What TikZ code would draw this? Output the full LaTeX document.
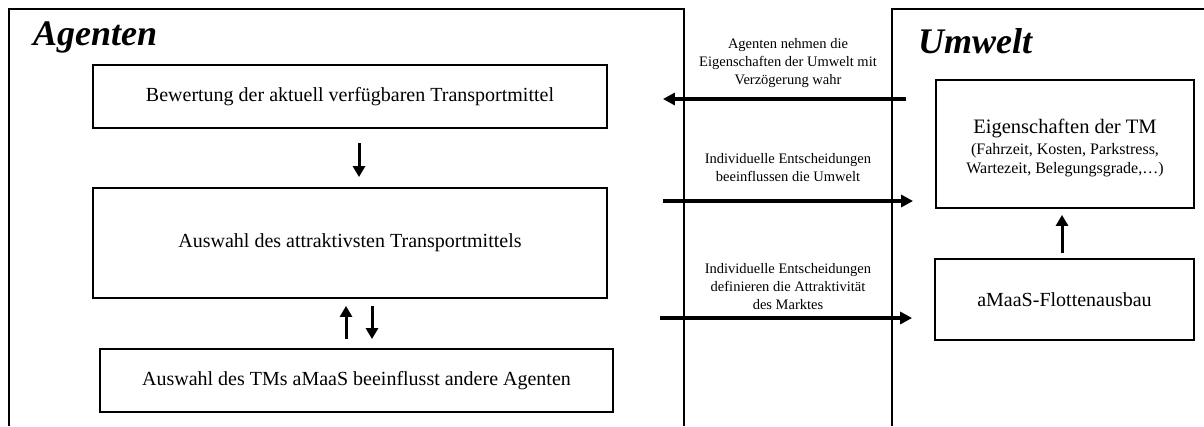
\documentclass[tikz,border=0pt]{standalone}
\usepackage{fontspec}
\setmainfont{Liberation Serif}
\usetikzlibrary{arrows.meta,calc}
\begin{document}
\begin{tikzpicture}[x=1pt,y=-1pt,
  frame/.style={line width=1.4pt},
  box/.style={draw,line width=1.8pt,inner sep=0pt,align=center,font=\fontsize{20}{24}\selectfont},
  harr/.style={line width=3.4pt,-{Triangle[length=12pt,width=12pt]}},
  varr/.style={line width=3pt,-{Triangle[length=11pt,width=12pt]}},
  lbl/.style={align=center,font=\fontsize{14.5}{18}\selectfont,inner sep=0pt},
  title/.style={anchor=base west,inner sep=0pt,font=\fontsize{36}{40}\selectfont\bfseries\itshape}]
\useasboundingbox (0,0) rectangle (1204,426);
% frames
\draw[frame] (9,426) coordinate (agbl) |- (684,9) -- (684,426) coordinate (agbr);
\draw[frame] (892,426) coordinate (umbl) |- (1204,9) coordinate (umtr);
\node[title] (tag) at (33,45) {Agenten};
\node[title] (tum) at (918,53) {Umwelt};
% agent boxes
\node[box,minimum width=514pt,minimum height=63pt] (b1) at (350,96.5) {Bewertung der aktuell verfügbaren Transportmittel};
\node[box,minimum width=514pt,minimum height=110pt] (b2) at (350,243) {Auswahl des attraktivsten Transportmittels};
\node[box,minimum width=513pt,minimum height=63pt] (b3) at (356.5,380.5) {Auswahl des TMs aMaaS beeinflusst andere Agenten};
% environment boxes
\node[box,minimum width=258pt,minimum height=128pt] (e1) at (1065,144) {};
\node[align=center,inner sep=0pt,font=\fontsize{16}{19.5}\selectfont] (e1t) at (1065,148.5)
  {{\fontsize{20.5}{21}\selectfont Eigenschaften der TM}\\[1pt](Fahrzeit, Kosten, Parkstress,\\Wartezeit, Belegungsgrade,…)};
\node[box,minimum width=259pt,minimum height=81pt] (e2) at (1064.5,299.5) {aMaaS-Flottenausbau};
% vertical arrows
\draw[varr,shorten <=14pt,shorten >=10pt] ([xshift=9pt]b1.south) -- ([xshift=9pt]b1.south |- b2.north);
\draw[varr,shorten <=9pt,shorten >=7pt] ([xshift=-10.5pt]b3.north) -- ([xshift=-4pt]b2.south);
\draw[varr,shorten <=7pt,shorten >=9pt] ([xshift=22pt]b2.south) -- ([xshift=15.5pt]b3.north);
\draw[varr,shorten <=5pt,shorten >=6pt] ([xshift=-2.5pt]e2.north) -- ([xshift=-3pt]e1.south);
% horizontal arrows
\draw[harr,shorten <=29pt,shorten >=55pt] ([yshift=45pt]e1.west) -- ([yshift=45pt]e1.west -| b1.east);
\draw[harr,shorten <=55pt,shorten >=22pt] ([yshift=42pt]b2.east) -- ([yshift=42pt]b2.east -| e1.west);
\draw[harr,shorten <=52pt,shorten >=22pt] ([yshift=-18.5pt]e2.west -| b2.east) -- ([yshift=-18.5pt]e2.west);
% labels
\node[lbl] (l1) at (788,63) {Agenten nehmen die\\Eigenschaften der Umwelt mit\\Verzögerung wahr};
\node[lbl] (l2) at (788,168) {Individuelle Entscheidungen\\beeinflussen die Umwelt};
\node[lbl] (l3) at (788,287) {Individuelle Entscheidungen\\definieren die Attraktivität\\des Marktes};
\end{tikzpicture}
\end{document}
